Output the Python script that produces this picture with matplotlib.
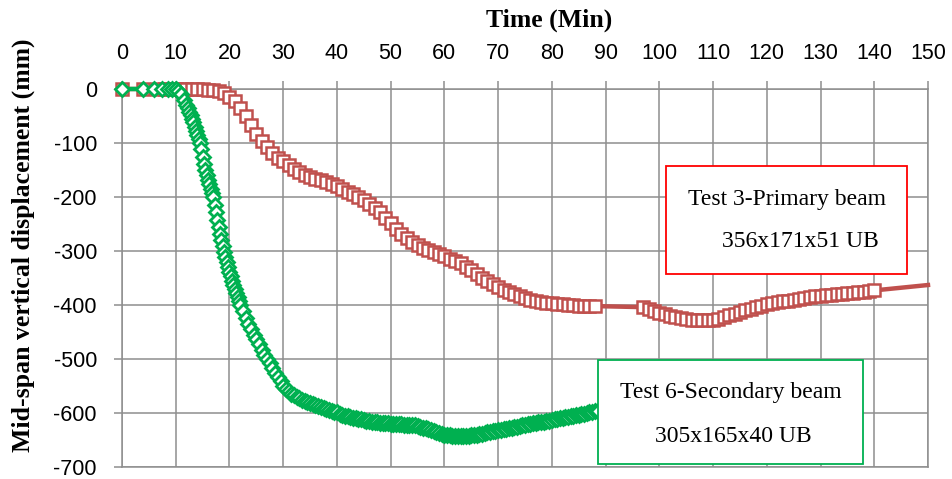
import matplotlib
matplotlib.use('Agg')
import matplotlib.pyplot as plt
from matplotlib.patches import Rectangle

plt.rcParams['axes.unicode_minus'] = False

# Test 3 - primary beam (red squares)
red_time = [0, 4, 6.5, 8, 9, 10, 11, 12, 13, 14, 15, 16, 17, 18, 19,
            20, 21, 22, 23, 24, 25, 26, 27, 28, 29,
            30, 31, 32, 33, 34, 35, 36, 37, 38, 39,
            40, 41, 42, 43, 44, 45, 46, 47, 48, 49,
            50, 51, 52, 53, 54, 55, 56, 57, 58, 59,
            60, 61, 62, 63, 64, 65, 66, 67, 68, 69,
            70, 71, 72, 73, 74, 75, 76, 77, 78, 79,
            80, 81, 82, 83, 84, 85, 86, 87, 88,
            97, 98, 99, 100, 101, 102, 103, 104, 105, 106, 107, 108, 109,
            110, 111, 112, 113, 114, 115, 116, 117, 118, 119,
            120, 121, 122, 123, 124, 125, 126, 127, 128, 129,
            130, 131, 132, 133, 134, 135, 136, 137, 138, 139, 140,
            150]
red_disp = [0, 0, 0, 0, 0, 0, 0, 0, 0, 0, 0, -1, -2, -4, -8,
            -14, -22, -35, -50, -67, -83, -96, -108, -118, -127,
            -134, -141, -148, -154, -159, -163, -166, -169, -172, -176,
            -180, -185, -190, -195, -200, -206, -213, -220, -228, -238,
            -248, -259, -268, -276, -283, -289, -294, -298, -302, -306,
            -310, -314, -318, -323, -329, -336, -343, -350, -356, -362,
            -367, -372, -376, -380, -384, -387, -390, -392, -394, -396,
            -397, -398, -399, -400, -400, -401, -401, -402, -402,
            -404, -408, -411, -414, -417, -420, -422, -424, -425, -427, -428, -428, -428,
            -427, -425, -422, -419, -416, -413, -410, -407, -404, -401,
            -398, -396, -395, -393, -392, -390, -389, -387, -386, -384,
            -383, -382, -381, -380, -379, -378, -377, -376, -375, -374, -373,
            -363]

# Test 6 - secondary beam (green diamonds)
green_time = [0, 4, 6, 7.5, 8.5, 9.3, 10, 10.5, 11, 11.5,
              12, 12.25, 12.5, 12.75, 13, 13.25, 13.5, 13.75,
              14, 14.25, 14.5, 14.75, 15, 15.25, 15.5, 15.75,
              16, 16.25, 16.5, 16.75, 17, 17.25, 17.5, 17.75,
              18, 18.25, 18.5, 18.75, 19, 19.25, 19.5, 19.75,
              20, 20.25, 20.5, 20.75, 21, 21.25, 21.5, 21.75,
              22, 22.5, 23, 23.5, 24, 24.5, 25, 25.5, 26, 26.5,
              27, 27.5, 28, 28.5, 29, 29.5, 30, 30.5, 31, 31.5,
              32, 32.5, 33, 33.5, 34, 34.5, 35, 35.5, 36, 36.5,
              37, 37.5, 38, 38.5, 39, 39.5, 40, 40.5, 41, 41.5,
              42, 42.5, 43, 43.5, 44, 44.5, 45, 45.5, 46, 46.5,
              47, 47.5, 48, 48.5, 49, 49.5, 50, 50.5, 51, 51.5,
              52, 52.5, 53, 53.5, 54, 54.5, 55, 55.5, 56, 56.5,
              57, 57.5, 58, 58.5, 59, 59.5, 60, 60.5, 61, 61.5,
              62, 62.5, 63, 63.5, 64, 64.5, 65, 65.5, 66, 66.5,
              67, 67.5, 68, 68.5, 69, 69.5, 70, 70.5, 71, 71.5,
              72, 72.5, 73, 73.5, 74, 74.5, 75, 75.5, 76, 76.5,
              77, 77.5, 78, 78.5, 79, 79.5, 80, 80.5, 81, 81.5,
              82, 82.5, 83, 83.5, 84, 84.5, 85, 85.5, 86, 86.5,
              87, 87.5, 88, 88.5]
green_disp = [0, 0, 0, 0, 0, 0, 0, -3, -10, -20,
              -30, -36, -42, -48, -55, -62, -70, -77,
              -85, -92, -100, -112, -125, -138, -150, -159,
              -168, -176, -185, -192, -200, -214, -228, -242,
              -255, -268, -280, -291, -302, -311, -320, -329,
              -338, -347, -355, -363, -370, -378, -385, -392,
              -400, -412, -424, -435, -445, -455, -463, -473, -483, -492,
              -500, -508, -516, -525, -533, -541, -550, -555, -560, -564,
              -567, -570, -572, -575, -577, -579, -581, -583, -585, -587,
              -589, -591, -593, -595, -596, -598, -599, -601, -603, -605,
              -606, -608, -609, -610, -611, -612, -613, -614, -615, -616,
              -617, -617, -618, -618, -619, -619, -620, -620, -621, -621,
              -621, -622, -622, -622, -623, -623, -624, -625, -627, -628,
              -630, -632, -634, -635, -637, -638, -640, -641, -641, -642,
              -642, -642, -642, -642, -642, -642, -641, -641, -640, -639,
              -638, -637, -636, -635, -634, -633, -632, -631, -630, -629,
              -628, -627, -626, -625, -624, -623, -622, -621, -620, -619,
              -618, -617, -616, -616, -615, -614, -613, -612, -611, -610,
              -609, -608, -607, -606, -605, -604, -603, -602, -601, -600,
              -599, -598, -597, -596]

x_ticks = [0, 10, 20, 30, 40, 50, 60, 70, 80, 90, 100, 110, 120, 130, 140, 150]
y_ticks = [0, -100, -200, -300, -400, -500, -600, -700]

red = '#C0504D'
green = '#00B050'
grid_col = '#8e8e8e'
serif = 'Liberation Serif'
tick_font = ['Liberation Sans Narrow', 'Liberation Sans', 'DejaVu Sans']

fig = plt.figure(figsize=(9.52, 4.79), dpi=100)
ax = fig.add_axes([122/952, 1 - 467/479, 806/952, 378/479])

ax.plot(red_time, red_disp, color=red, lw=3.2, marker='s', ms=8,
        mfc='white', mec=red, mew=1.8, markevery=slice(0, len(red_time) - 1),
        clip_on=False, zorder=3)
ax.plot(green_time, green_disp, color=green, lw=3.2, marker='D', ms=7.2,
        mfc='white', mec=green, mew=2, clip_on=False, zorder=3)

ax.set_xlim(0, 150)
ax.set_ylim(-700, 0)
ax.xaxis.tick_top()
ax.set_xticks(x_ticks)
ax.set_yticks(y_ticks)
ax.grid(True, color=grid_col, lw=1.1)
ax.set_axisbelow(True)
for s in ax.spines.values():
    s.set_color(grid_col)
    s.set_linewidth(1.1)
ax.tick_params(axis='x', length=6, width=1.1, color=grid_col, pad=12)
ax.tick_params(axis='y', length=6, width=1.1, color=grid_col, pad=12)
for lab in ax.get_xticklabels() + ax.get_yticklabels():
    lab.set_family(tick_font)
    lab.set_fontsize(15.5)

fig.text(549/952, 1 - 26.7/479, 'Time (Min)', ha='center', va='baseline',
         family=serif, fontweight='bold', fontsize=18.5)
fig.text(23/952, 1 - 245/479, 'Mid-span vertical displacement (mm)', rotation=90,
         ha='center', va='center', family=serif, fontweight='bold', fontsize=18.5)

ax.add_patch(Rectangle((101.2, -342.6), 44.9, 200, facecolor='white',
                       edgecolor='#FF0000', lw=1.3, zorder=5))
ax.text(123.8, -214.8, 'Test 3-Primary beam', ha='center', va='baseline',
        family=serif, fontsize=17, zorder=6)
ax.text(126.2, -292.6, '356x171x51 UB', ha='center', va='baseline',
        family=serif, fontsize=17, zorder=6)

ax.add_patch(Rectangle((88.6, -694.4), 49.3, 192.5, facecolor='white',
                       edgecolor=green, lw=1.3, zorder=5))
ax.text(113.3, -572.2, 'Test 6-Secondary beam', ha='center', va='baseline',
        family=serif, fontsize=17, zorder=6)
ax.text(113.7, -653.7, '305x165x40 UB', ha='center', va='baseline',
        family=serif, fontsize=17, zorder=6)

fig.savefig('out.png', dpi=100)
